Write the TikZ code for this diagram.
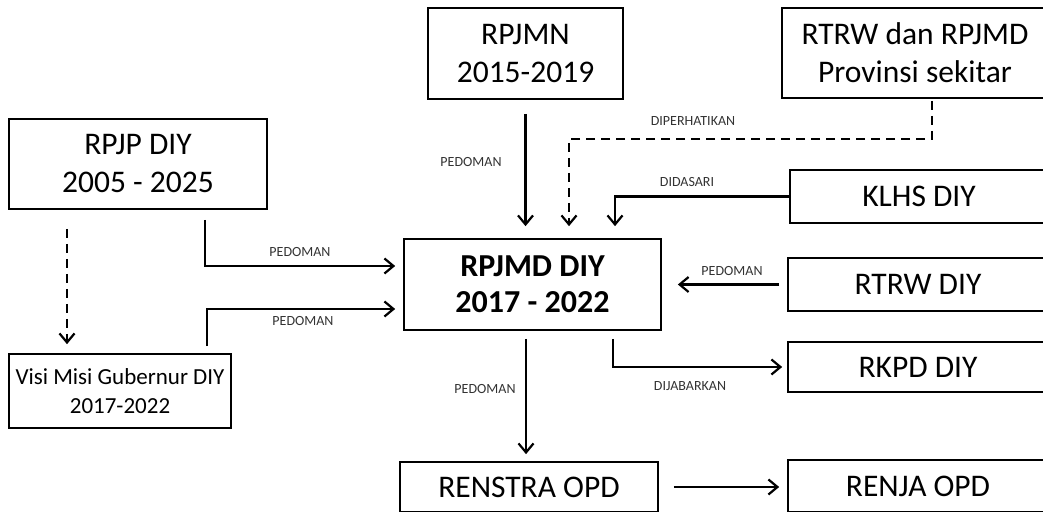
\documentclass[tikz,border=0pt]{standalone}
\usepackage{fontspec}
\setmainfont{Carlito}
\usetikzlibrary{shapes,arrows.meta}

\begin{document}
\begin{tikzpicture}[x=1pt,y=-1pt,
  box/.style={shape=rectangle,draw=black,align=center,line width=1.7pt,inner sep=0pt},
  big/.style={font=\fontsize{31.5}{38}\selectfont},
  lbl/.style={font=\fontsize{14}{16}\selectfont,text=black!80},
  link/.style={-{Straight Barb[length=9pt,width=15pt,line width=2.2pt]},draw=black,line width=2.2pt},
  gap/.style={dash pattern=on 9pt off 6pt}]
\useasboundingbox (0,0) rectangle (1043,511);
\node[box,big,minimum width=258pt,minimum height=90pt] (0) at (138,164) {RPJP DIY\\2005 - 2025};
\node[box,font=\fontsize{23}{29}\selectfont,minimum width=222pt,minimum height=74pt] (1) at (120,391) {Visi Misi Gubernur DIY\\2017-2022};
\node[box,big,minimum width=195pt,minimum height=91pt] (2) at (525.5,53.5) {RPJMN\\2015-2019};
\node[box,big,minimum width=266pt,minimum height=90pt] (3) at (915,53) {RTRW dan RPJMD\\Provinsi sekitar};
\node[box,font=\fontsize{32}{36}\selectfont\bfseries,minimum width=257pt,minimum height=91pt] (4) at (532.5,284.5) {RPJMD DIY\\2017 - 2022};
\node[box,big,minimum width=258pt,minimum height=53pt] (5) at (919,196.5) {KLHS DIY};
\node[box,big,minimum width=260pt,minimum height=53pt] (6) at (918,284.5) {RTRW DIY};
\node[box,big,minimum width=260pt,minimum height=50pt] (7) at (918,367) {RKPD DIY};
\node[box,big,minimum width=258pt,minimum height=50pt] (8) at (529,487) {RENSTRA OPD};
\node[box,big,minimum width=260pt,minimum height=52pt] (9) at (918,486) {RENJA OPD};

\path [link,shorten <=14pt,shorten >=12pt] (2.south) -- (2.south |- 4.north);
\path [link,gap,shorten <=2pt,shorten >=12pt] ([xshift=17pt]3.south) -- ++(0,40) -| ([xshift=36.5pt]4.north);
\path [link,shorten >=12pt] (5.west) -| ([xshift=82.5pt]4.north);
\path [link,shorten <=10pt,shorten >=8pt] ([xshift=67pt]0.south) |- ([yshift=18.5pt]4.west);
\path [link,shorten <=7pt,shorten >=8pt] ([xshift=87pt]1.north) |- ([yshift=-24.5pt]4.west);
\path [link,gap,shorten <=19pt,shorten >=9pt] ([xshift=-71pt]0.south) -- ([xshift=-53pt]1.north);
\path [link,shorten <=8pt,shorten >=16pt] (6.west) -- (4.east);
\path [link,shorten <=8pt,shorten >=5pt] ([xshift=80.5pt]4.south) |- (7.west);
\path [link,shorten <=8pt,shorten >=7pt] ([xshift=-6.5pt]4.south) -- ([xshift=-3pt]8.north);
\path [link,shorten <=15pt,shorten >=8pt] (8.east) -- (8.east -| 9.west);

\node[lbl] (l0) at (471,162) {PEDOMAN};
\node[lbl] (l1) at (693,121) {DIPERHATIKAN};
\node[lbl] (l2) at (687,182) {DIDASARI};
\node[lbl] (l3) at (300,252) {PEDOMAN};
\node[lbl] (l4) at (303,321) {PEDOMAN};
\node[lbl] (l5) at (732,271) {PEDOMAN};
\node[lbl] (l6) at (690,386) {DIJABARKAN};
\node[lbl] (l7) at (485,389) {PEDOMAN};
\end{tikzpicture}
\end{document}
